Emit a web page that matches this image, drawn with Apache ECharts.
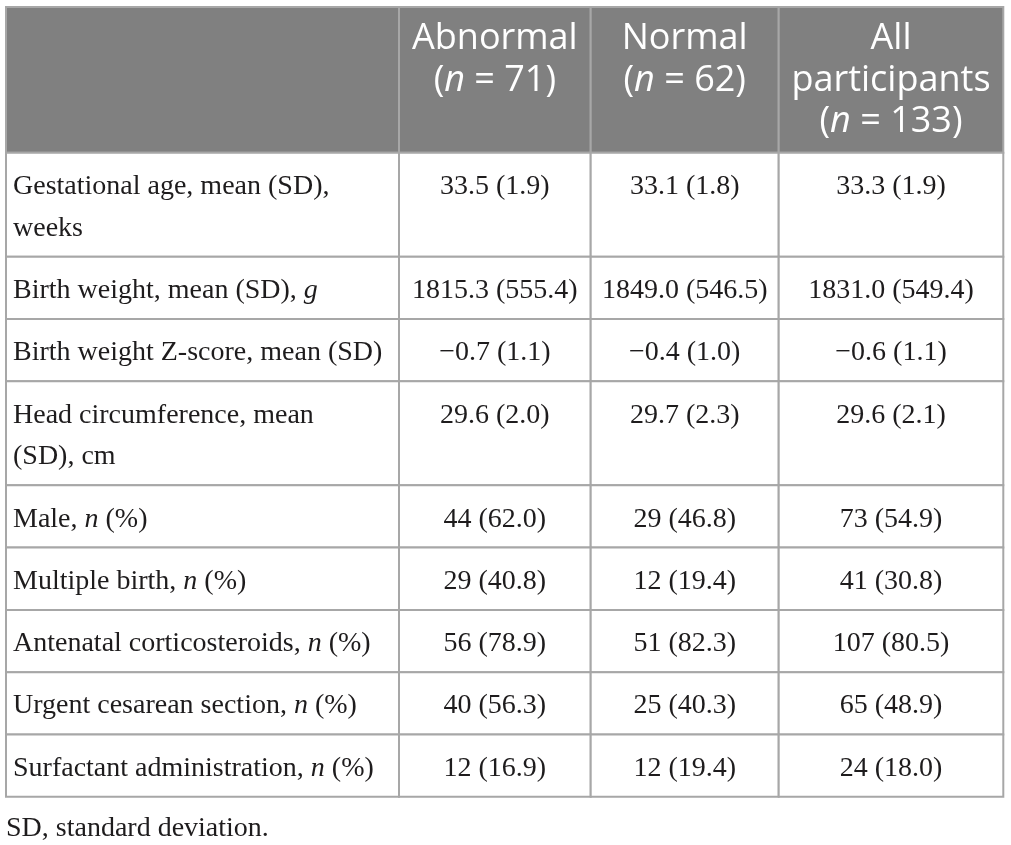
<!DOCTYPE html>
<html>
<head>
<meta charset="utf-8">
<script src="https://cdn.jsdelivr.net/npm/echarts@6/dist/echarts.min.js"></script>
<style>
html,body{margin:0;padding:0;background:#fff;}
#chart{width:1011px;height:845px;}
</style>
</head>
<body>
<div id="chart"></div>
<script>
// ---- data ----
const columnHeaders = ['', 'Abnormal\n({i|n} = 71)', 'Normal\n({i|n} = 62)', 'All\nparticipants\n({i|n} = 133)'];
const rowLabels = [
  'Gestational age, mean (SD),\nweeks',
  'Birth weight, mean (SD), {i|g}',
  'Birth weight Z-score, mean (SD)',
  'Head circumference, mean\n(SD), cm',
  'Male, {i|n} (%)',
  'Multiple birth, {i|n} (%)',
  'Antenatal corticosteroids, {i|n} (%)',
  'Urgent cesarean section, {i|n} (%)',
  'Surfactant administration, {i|n} (%)'
];
const valueDecimals = [1, 1, 1, 1, 0, 0, 0, 0, 0];
const abnormalValue = [33.5, 1815.3, -0.7, 29.6, 44, 29, 56, 40, 12];
const abnormalParen = [1.9, 555.4, 1.1, 2.0, 62.0, 40.8, 78.9, 56.3, 16.9];
const normalValue = [33.1, 1849.0, -0.4, 29.7, 29, 12, 51, 25, 12];
const normalParen = [1.8, 546.5, 1.0, 2.3, 46.8, 19.4, 82.3, 40.3, 19.4];
const allValue = [33.3, 1831.0, -0.6, 29.6, 73, 41, 107, 65, 24];
const allParen = [1.9, 549.4, 1.1, 2.1, 54.9, 30.8, 80.5, 48.9, 18.0];
const footnote = 'SD, standard deviation.';

// ---- layout ----
const colWidths = [393, 191.7, 188, 224.6];
const LINE = 41.7, PAD = 20.6;
const BODY_FONT = '"Liberation Serif", "Times New Roman", serif';
const HEAD_FONT = '"Open Sans", "Noto Sans", sans-serif';

function fmt(v, d) {
  const s = Math.abs(v).toFixed(d);
  return (v < 0 ? '\u2212' : '') + s;
}
const valueCols = [
  [abnormalValue, abnormalParen],
  [normalValue, normalParen],
  [allValue, allParen]
];
const lineCount = s => s.split('\n').length;
const rowLines = [Math.max.apply(null, columnHeaders.map(lineCount))]
  .concat(rowLabels.map(lineCount));
const rowHeights = rowLines.map(n => PAD + n * LINE);
const rowStart = [0];
rowHeights.forEach((h, i) => rowStart.push(rowStart[i] + h));
const colStart = [0];
colWidths.forEach((w, i) => colStart.push(colStart[i] + w));
const totalH = rowStart[rowStart.length - 1];
const totalW = colStart[colStart.length - 1];

function cellText(r, c) {
  if (r === 0) return columnHeaders[c];
  const i = r - 1;
  if (c === 0) return rowLabels[i];
  const pair = valueCols[c - 1];
  return fmt(pair[0][i], valueDecimals[i]) + ' (' + fmt(pair[1][i], 1) + ')';
}

const cells = [];
for (let r = 0; r < rowLines.length; r++) {
  for (let c = 0; c < colWidths.length; c++) cells.push([c, r]);
}

const chart = echarts.init(document.getElementById('chart'), null, {renderer: 'canvas'});
chart.setOption({
  animation: false,
  backgroundColor: '#fff',
  title: {
    text: footnote, left: 1, top: 808,
    textStyle: {fontFamily: BODY_FONT, fontSize: 28, fontWeight: 'normal', color: '#1e1c1d', lineHeight: 32}
  },
  grid: {left: 6, top: 7, width: totalW, height: totalH, show: false},
  xAxis: {type: 'value', min: 0, max: totalW, show: false},
  yAxis: {type: 'value', min: 0, max: totalH, inverse: true, show: false},
  series: [{
    type: 'custom',
    coordinateSystem: 'cartesian2d',
    clip: false,
    data: cells,
    renderItem: function (params, api) {
      const c = api.value(0), r = api.value(1);
      const p0 = api.coord([colStart[c], rowStart[r]]);
      const p1 = api.coord([colStart[c + 1], rowStart[r + 1]]);
      const head = r === 0;
      const fs = head ? 36 : 28;
      const lh = head ? 41.5 : LINE;
      const color = head ? '#ffffff' : '#1e1c1d';
      const fam = head ? HEAD_FONT : BODY_FONT;
      const tx = c === 0 ? p0[0] + 7 : (p0[0] + p1[0]) / 2;
      const ty = p0[1] + (head ? 11 : 13);
      return {
        type: 'group',
        children: [{
          type: 'rect',
          shape: {x: p0[0], y: p0[1], width: p1[0] - p0[0], height: p1[1] - p0[1]},
          style: {fill: head ? '#808080' : '#ffffff', stroke: '#a7a7a7', lineWidth: 2}
        }, {
          type: 'text',
          style: {
            text: cellText(r, c), x: tx, y: ty,
            align: c === 0 ? 'left' : 'center', verticalAlign: 'top',
            fontSize: fs, fontFamily: fam, fill: color, lineHeight: lh,
            rich: {i: {fontStyle: 'italic', fontSize: fs, fontFamily: fam, fill: color, lineHeight: lh}}
          }
        }]
      };
    }
  }]
});
</script>
</body>
</html>
